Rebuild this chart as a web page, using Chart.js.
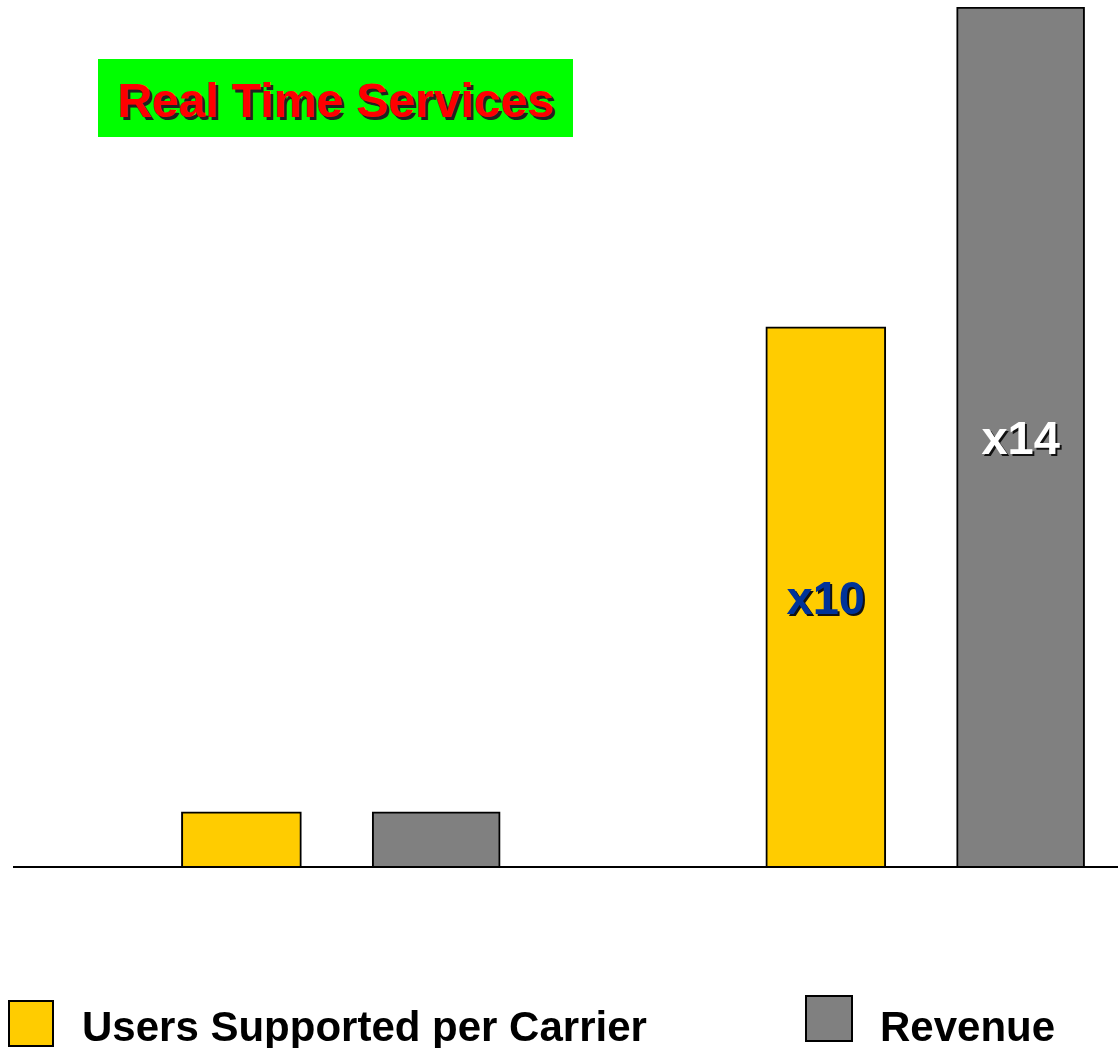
<!DOCTYPE html>
<html>
<head>
<meta charset="utf-8">
<script src="https://cdn.jsdelivr.net/npm/chart.js@4.4.1/dist/chart.umd.min.js"></script>
<style>
  html, body { margin: 0; padding: 0; background: #fff; }
  #wrap { position: relative; width: 1118px; height: 1048px; font-family: "Liberation Sans", Arial, sans-serif; }
  #wrap canvas { position: absolute; left: 0; top: 0; }
  .title {
    position: absolute; left: 98px; top: 59px; width: 475px; height: 78px;
    background: #00ff00; color: #ff0000; font-weight: bold; font-size: 48px;
    line-height: 84px; text-align: center; text-shadow: 3px 3px 0 #222;
  }
  .key { position: absolute; border: 2px solid #000; box-sizing: border-box; }
  .key-label { position: absolute; font-weight: bold; font-size: 42px; line-height: 42px; color: #000; white-space: nowrap; }
</style>
</head>
<body>
<div id="wrap">
  <canvas id="chart" width="1118" height="1048"></canvas>
  <div class="title">Real Time Services</div>
  <div id="legend"></div>
</div>
<script>
// ─────────────── DATA ───────────────
const slots = ['', '', '', '', ''];            // two groups, empty slot between them
const usersPerCarrier = [1, null, null, 9.8, null];
const revenue = [null, 1, null, null, 15.6];
const usersNotes = [null, null, null, 'x10', null];
const revenueNotes = [null, null, null, null, 'x14'];
const seriesNames = ['Users Supported per Carrier', 'Revenue'];

const colors = ['#ffcc00', '#808080'];
const noteColors = ['#003399', '#ffffff'];

// ─────────────── PLUGINS ───────────────
// long baseline, runs past the plot area to the left like the original
const baseLine = {
  id: 'baseLine',
  afterDatasetsDraw(chart) {
    const { ctx } = chart;
    const y = chart.scales.y.getPixelForValue(0);
    ctx.save();
    ctx.strokeStyle = '#000';
    ctx.lineWidth = 2;
    ctx.beginPath();
    ctx.moveTo(13, y);
    ctx.lineTo(chart.width, y);
    ctx.stroke();
    ctx.restore();
  }
};

// "x10" / "x14" written at mid height of the bar
const barNotes = {
  id: 'barNotes',
  afterDatasetsDraw(chart) {
    const { ctx } = chart;
    const notes = [usersNotes, revenueNotes];
    chart.data.datasets.forEach((ds, i) => {
      const meta = chart.getDatasetMeta(i);
      notes[i].forEach((txt, j) => {
        if (!txt) return;
        const bar = meta.data[j];
        ctx.save();
        ctx.font = 'bold 47px "Liberation Sans", Arial, sans-serif';
        ctx.textAlign = 'center';
        ctx.textBaseline = 'middle';
        ctx.shadowColor = '#111';
        ctx.shadowOffsetX = 2;
        ctx.shadowOffsetY = 2;
        ctx.shadowBlur = 0;
        ctx.fillStyle = noteColors[i];
        ctx.fillText(txt, bar.x, (bar.y + bar.base) / 2 + 4);
        ctx.restore();
      });
    });
  }
};

// ─────────────── CHART ───────────────
const chart = new Chart(document.getElementById('chart'), {
  type: 'bar',
  data: {
    labels: slots,
    datasets: [
      {
        label: seriesNames[0],
        data: usersPerCarrier,
        backgroundColor: colors[0],
        borderColor: '#000',
        borderWidth: 2,
        barThickness: 120,
        grouped: false
      },
      {
        label: seriesNames[1],
        data: revenue,
        backgroundColor: colors[1],
        borderColor: '#000',
        borderWidth: 2,
        barThickness: 128,
        grouped: false
      }
    ]
  },
  options: {
    responsive: false,
    animation: false,
    layout: { padding: { left: 144, right: 0, top: 7, bottom: 181 } },
    plugins: {
      legend: { display: false },
      tooltip: { enabled: false }
    },
    scales: {
      x: { display: false, offset: true },
      y: { display: false, min: 0, max: 15.6 }
    }
  },
  plugins: [baseLine, barNotes]
});

// ─────────────── LEGEND ───────────────
// built from the datasets, laid out like the slide footer
const legendEl = document.getElementById('legend');
const keySpots = [
  { box: [8, 1000, 46, 47], text: [82, 1006] },
  { box: [805, 995, 48, 47], text: [880, 1006] }
];
chart.data.datasets.forEach((ds, i) => {
  const s = keySpots[i];
  const box = document.createElement('div');
  box.className = 'key';
  box.style.cssText = `left:${s.box[0]}px;top:${s.box[1]}px;width:${s.box[2]}px;height:${s.box[3]}px;background:${ds.backgroundColor}`;
  const lbl = document.createElement('div');
  lbl.className = 'key-label';
  lbl.style.left = s.text[0] + 'px';
  lbl.style.top = s.text[1] + 'px';
  lbl.textContent = ds.label;
  legendEl.appendChild(box);
  legendEl.appendChild(lbl);
});
</script>
</body>
</html>
